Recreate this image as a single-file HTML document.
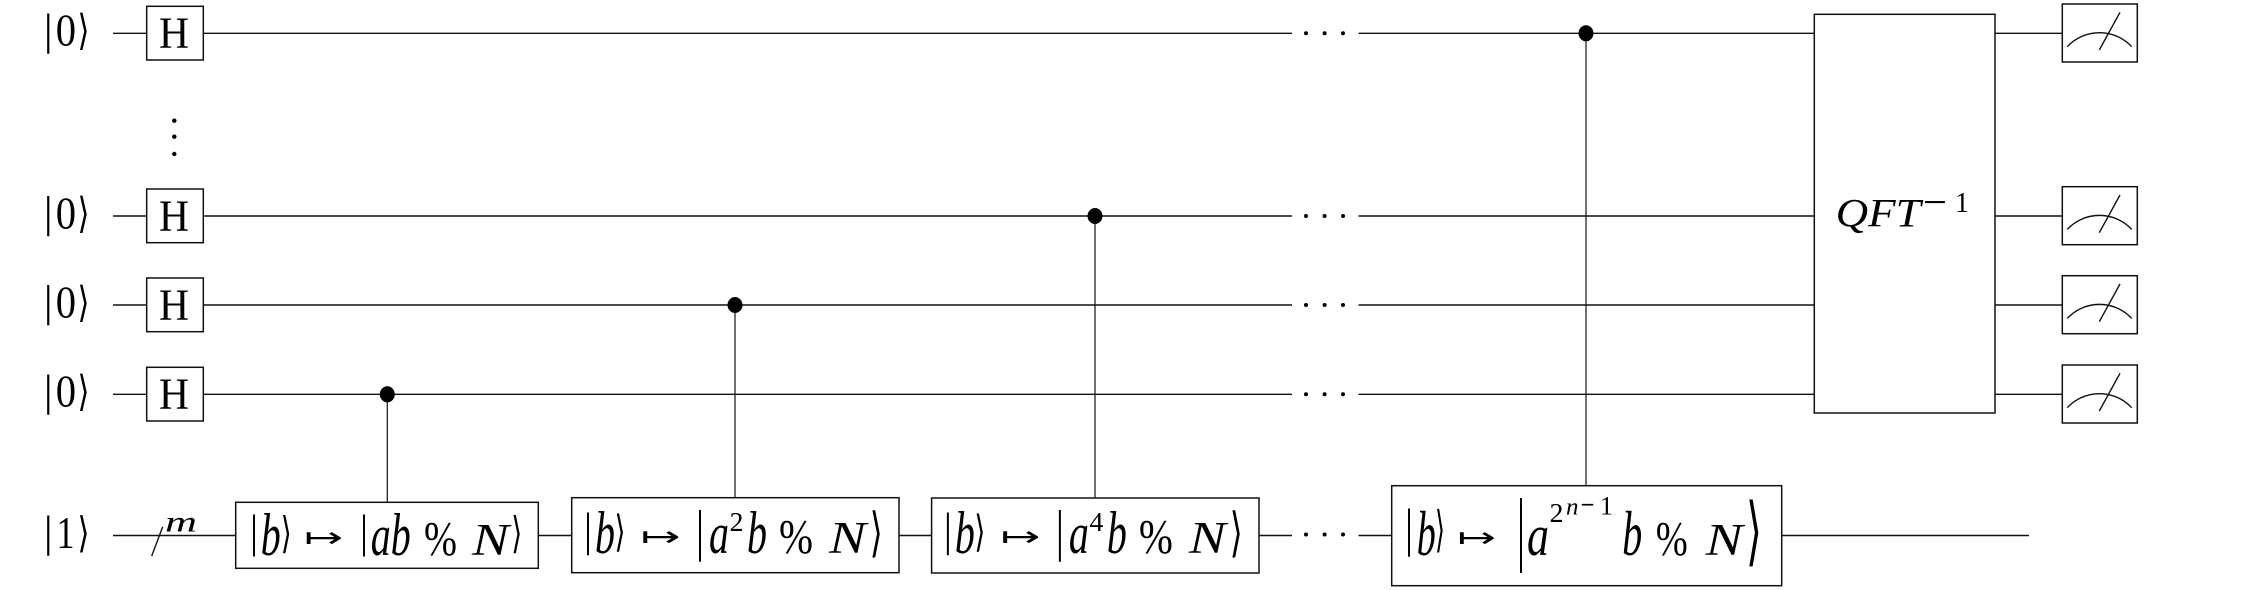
<!DOCTYPE html>
<html>
<head>
<meta charset="utf-8">
<style>
  html, body { margin: 0; padding: 0; background: #fff; }
  svg { display: block; }
  .w { stroke: #111; stroke-width: 1.4; fill: none; }
  .b { stroke: #111; stroke-width: 1.5; fill: #fff; }
  .v { stroke: #111; stroke-width: 1.2; }
  text { fill: #000; }
  .r { font-family: "Liberation Serif", "DejaVu Serif", serif; }
  .i { font-family: "Liberation Serif", "DejaVu Serif", serif; font-style: italic; }
  .s { font-family: "DejaVu Sans", "Liberation Sans", sans-serif; }
</style>
</head>
<body>
<svg width="2265" height="590" viewBox="0 0 2265 590" xmlns="http://www.w3.org/2000/svg">
  <rect x="0" y="0" width="2265" height="590" fill="#fff"/>

  <g class="w">
    <line x1="113" y1="33.3" x2="146.7" y2="33.3"/>
    <line x1="203.3" y1="33.3" x2="1292" y2="33.3"/>
    <line x1="1358.5" y1="33.3" x2="1814.3" y2="33.3"/>
    <line x1="1995" y1="33.3" x2="2062.3" y2="33.3"/>

    <line x1="113" y1="216" x2="146.7" y2="216"/>
    <line x1="203.3" y1="216" x2="1292" y2="216"/>
    <line x1="1358.5" y1="216" x2="1814.3" y2="216"/>
    <line x1="1995" y1="216" x2="2062.3" y2="216"/>

    <line x1="113" y1="305" x2="146.7" y2="305"/>
    <line x1="203.3" y1="305" x2="1292" y2="305"/>
    <line x1="1358.5" y1="305" x2="1814.3" y2="305"/>
    <line x1="1995" y1="305" x2="2062.3" y2="305"/>

    <line x1="113" y1="394.3" x2="146.7" y2="394.3"/>
    <line x1="203.3" y1="394.3" x2="1292" y2="394.3"/>
    <line x1="1358.5" y1="394.3" x2="1814.3" y2="394.3"/>
    <line x1="1995" y1="394.3" x2="2062.3" y2="394.3"/>

    <line x1="113" y1="535.5" x2="235.7" y2="535.5"/>
    <line x1="538.3" y1="535.5" x2="571.7" y2="535.5"/>
    <line x1="899" y1="535.5" x2="931.6" y2="535.5"/>
    <line x1="1259" y1="535.5" x2="1292" y2="535.5"/>
    <line x1="1358.5" y1="535.5" x2="1391.7" y2="535.5"/>
    <line x1="1781.7" y1="535.5" x2="2029" y2="535.5"/>

    <line x1="151.7" y1="556" x2="162.7" y2="526.7"/>
  </g>

  <g fill="#000">
    <circle cx="1306" cy="33.3" r="2"/><circle cx="1324.6" cy="33.3" r="2"/><circle cx="1343" cy="33.3" r="2"/>
    <circle cx="1306" cy="216" r="2"/><circle cx="1324.6" cy="216" r="2"/><circle cx="1343" cy="216" r="2"/>
    <circle cx="1306" cy="305" r="2"/><circle cx="1324.6" cy="305" r="2"/><circle cx="1343" cy="305" r="2"/>
    <circle cx="1306" cy="394.3" r="2"/><circle cx="1324.6" cy="394.3" r="2"/><circle cx="1343" cy="394.3" r="2"/>
    <circle cx="1306" cy="534.5" r="2"/><circle cx="1324.6" cy="534.5" r="2"/><circle cx="1343" cy="534.5" r="2"/>
    <circle cx="174.3" cy="120.7" r="2.2"/>
    <circle cx="174.3" cy="136.7" r="2.2"/>
    <circle cx="174.3" cy="154" r="2.2"/>
  </g>

  <g class="v">
    <line x1="387.3" y1="394.3" x2="387.3" y2="502.3"/>
    <line x1="735" y1="305" x2="735" y2="497.7"/>
    <line x1="1095" y1="216" x2="1095" y2="498"/>
    <line x1="1586" y1="33.3" x2="1586" y2="485.7"/>
  </g>
  <g fill="#000">
    <ellipse cx="387.3" cy="394.3" rx="7.5" ry="8"/>
    <ellipse cx="735" cy="305" rx="7.5" ry="8"/>
    <ellipse cx="1095" cy="216" rx="7.5" ry="8"/>
    <ellipse cx="1586" cy="33.3" rx="7.5" ry="8"/>
  </g>

  <g class="b">
    <rect x="146.7" y="6.3" width="56.6" height="53.7"/>
    <rect x="146.7" y="189" width="56.6" height="53.7"/>
    <rect x="146.7" y="278" width="56.6" height="53.7"/>
    <rect x="146.7" y="367.3" width="56.6" height="53.7"/>
  </g>
  <g class="r" font-size="44.4">
    <text x="159" y="47.7" textLength="30" lengthAdjust="spacingAndGlyphs">H</text>
    <text x="159" y="230.4" textLength="30" lengthAdjust="spacingAndGlyphs">H</text>
    <text x="159" y="319.4" textLength="30" lengthAdjust="spacingAndGlyphs">H</text>
    <text x="159" y="408.7" textLength="30" lengthAdjust="spacingAndGlyphs">H</text>
  </g>

  <g>
    <text class="s" x="48.3" y="43.9" font-size="40" text-anchor="middle" textLength="9" lengthAdjust="spacingAndGlyphs">|</text>
    <text class="r" x="55.7" y="45.7" font-size="45" textLength="20.3" lengthAdjust="spacingAndGlyphs">0</text>
    <text class="s" x="83.5" y="44.6" font-size="42" text-anchor="middle" textLength="12" lengthAdjust="spacingAndGlyphs">⟩</text>

    <text class="s" x="48.3" y="226.6" font-size="40" text-anchor="middle" textLength="9" lengthAdjust="spacingAndGlyphs">|</text>
    <text class="r" x="55.7" y="228.4" font-size="45" textLength="20.3" lengthAdjust="spacingAndGlyphs">0</text>
    <text class="s" x="83.5" y="227.3" font-size="42" text-anchor="middle" textLength="12" lengthAdjust="spacingAndGlyphs">⟩</text>

    <text class="s" x="48.3" y="315.6" font-size="40" text-anchor="middle" textLength="9" lengthAdjust="spacingAndGlyphs">|</text>
    <text class="r" x="55.7" y="317.4" font-size="45" textLength="20.3" lengthAdjust="spacingAndGlyphs">0</text>
    <text class="s" x="83.5" y="316.3" font-size="42" text-anchor="middle" textLength="12" lengthAdjust="spacingAndGlyphs">⟩</text>

    <text class="s" x="48.3" y="404.9" font-size="40" text-anchor="middle" textLength="9" lengthAdjust="spacingAndGlyphs">|</text>
    <text class="r" x="55.7" y="406.7" font-size="45" textLength="20.3" lengthAdjust="spacingAndGlyphs">0</text>
    <text class="s" x="83.5" y="405.6" font-size="42" text-anchor="middle" textLength="12" lengthAdjust="spacingAndGlyphs">⟩</text>

    <text class="s" x="48.3" y="546.1" font-size="40" text-anchor="middle" textLength="9" lengthAdjust="spacingAndGlyphs">|</text>
    <text class="r" x="56.5" y="547.9" font-size="45" textLength="18" lengthAdjust="spacingAndGlyphs">1</text>
    <text class="s" x="83.5" y="546.8" font-size="42" text-anchor="middle" textLength="12" lengthAdjust="spacingAndGlyphs">⟩</text>

    <text class="i" x="165" y="531.7" font-size="30" textLength="32" lengthAdjust="spacingAndGlyphs">m</text>
  </g>

  <!-- Gate 1 -->
  <rect class="b" x="235.7" y="502.3" width="302.6" height="66"/>
  <g>
    <text class="s" x="254" y="546.4" font-size="42" text-anchor="middle" textLength="8" lengthAdjust="spacingAndGlyphs">|</text>
    <text class="i" x="260.7" y="555" font-size="60" textLength="20" lengthAdjust="spacingAndGlyphs">b</text>
    <text class="s" x="286.2" y="547.4" font-size="43" text-anchor="middle" textLength="11" lengthAdjust="spacingAndGlyphs">⟩</text>
    <text class="s" x="304" y="547" font-size="28" textLength="39" lengthAdjust="spacingAndGlyphs">↦</text>
    <text class="s" x="364" y="546.4" font-size="42" text-anchor="middle" textLength="8" lengthAdjust="spacingAndGlyphs">|</text>
    <text class="i" x="370.7" y="555" font-size="58" textLength="20" lengthAdjust="spacingAndGlyphs">a</text>
    <text class="i" x="390.7" y="555" font-size="60" textLength="20" lengthAdjust="spacingAndGlyphs">b</text>
    <text class="r" x="424" y="555" font-size="49" textLength="33" lengthAdjust="spacingAndGlyphs">%</text>
    <text class="i" x="472" y="555" font-size="45" textLength="37" lengthAdjust="spacingAndGlyphs">N</text>
    <text class="s" x="516.7" y="547.4" font-size="43" text-anchor="middle" textLength="11" lengthAdjust="spacingAndGlyphs">⟩</text>
  </g>

  <!-- Gate 2 -->
  <rect class="b" x="571.7" y="497.7" width="327.3" height="75"/>
  <g>
    <text class="s" x="588" y="545" font-size="43" text-anchor="middle" textLength="8" lengthAdjust="spacingAndGlyphs">|</text>
    <text class="i" x="595" y="553" font-size="60" textLength="20" lengthAdjust="spacingAndGlyphs">b</text>
    <text class="s" x="620" y="546" font-size="43" text-anchor="middle" textLength="11" lengthAdjust="spacingAndGlyphs">⟩</text>
    <text class="s" x="640.5" y="546" font-size="28" textLength="40" lengthAdjust="spacingAndGlyphs">↦</text>
    <text class="s" x="700" y="549.4" font-size="52" text-anchor="middle" textLength="8" lengthAdjust="spacingAndGlyphs">|</text>
    <text class="i" x="709" y="553" font-size="58" textLength="20" lengthAdjust="spacingAndGlyphs">a</text>
    <text class="r" x="729.5" y="531" font-size="27" textLength="14" lengthAdjust="spacingAndGlyphs">2</text>
    <text class="i" x="747" y="553" font-size="60" textLength="20" lengthAdjust="spacingAndGlyphs">b</text>
    <text class="r" x="779" y="553" font-size="49" textLength="34" lengthAdjust="spacingAndGlyphs">%</text>
    <text class="i" x="829" y="553" font-size="45" textLength="37" lengthAdjust="spacingAndGlyphs">N</text>
    <text class="s" x="876.3" y="550.4" font-size="53" text-anchor="middle" textLength="13" lengthAdjust="spacingAndGlyphs">⟩</text>
  </g>

  <!-- Gate 3 -->
  <rect class="b" x="931.6" y="498" width="327.4" height="75"/>
  <g>
    <text class="s" x="947.9" y="545" font-size="43" text-anchor="middle" textLength="8" lengthAdjust="spacingAndGlyphs">|</text>
    <text class="i" x="954.9" y="553" font-size="60" textLength="20" lengthAdjust="spacingAndGlyphs">b</text>
    <text class="s" x="979.9" y="546" font-size="43" text-anchor="middle" textLength="11" lengthAdjust="spacingAndGlyphs">⟩</text>
    <text class="s" x="1000.4" y="546" font-size="28" textLength="40" lengthAdjust="spacingAndGlyphs">↦</text>
    <text class="s" x="1059.9" y="549.4" font-size="52" text-anchor="middle" textLength="8" lengthAdjust="spacingAndGlyphs">|</text>
    <text class="i" x="1068.9" y="553" font-size="58" textLength="20" lengthAdjust="spacingAndGlyphs">a</text>
    <text class="r" x="1089.4" y="531" font-size="27" textLength="14" lengthAdjust="spacingAndGlyphs">4</text>
    <text class="i" x="1106.9" y="553" font-size="60" textLength="20" lengthAdjust="spacingAndGlyphs">b</text>
    <text class="r" x="1138.9" y="553" font-size="49" textLength="34" lengthAdjust="spacingAndGlyphs">%</text>
    <text class="i" x="1188.9" y="553" font-size="45" textLength="37" lengthAdjust="spacingAndGlyphs">N</text>
    <text class="s" x="1236.2" y="550.4" font-size="53" text-anchor="middle" textLength="13" lengthAdjust="spacingAndGlyphs">⟩</text>
  </g>

  <!-- Gate 4 -->
  <rect class="b" x="1391.7" y="485.7" width="390" height="100"/>
  <g>
    <text class="s" x="1409" y="545" font-size="48" text-anchor="middle" textLength="8" lengthAdjust="spacingAndGlyphs">|</text>
    <text class="i" x="1416.7" y="555" font-size="64" textLength="19" lengthAdjust="spacingAndGlyphs">b</text>
    <text class="s" x="1440" y="546.2" font-size="49" text-anchor="middle" textLength="10" lengthAdjust="spacingAndGlyphs">⟩</text>
    <text class="s" x="1457.3" y="547" font-size="28" textLength="38.7" lengthAdjust="spacingAndGlyphs">↦</text>
    <text class="s" x="1521" y="555.3" font-size="75" text-anchor="middle" textLength="8" lengthAdjust="spacingAndGlyphs">|</text>
    <text class="i" x="1527" y="555" font-size="58" textLength="22" lengthAdjust="spacingAndGlyphs">a</text>
    <text class="r" x="1549.5" y="522" font-size="27" textLength="14" lengthAdjust="spacingAndGlyphs">2</text>
    <text class="i" x="1566" y="514.7" font-size="24" textLength="12.5" lengthAdjust="spacingAndGlyphs">n</text>
    <text class="r" x="1580.5" y="516" font-size="34" textLength="14" lengthAdjust="spacingAndGlyphs">−</text>
    <text class="r" x="1600" y="514.7" font-size="26" textLength="13" lengthAdjust="spacingAndGlyphs">1</text>
    <text class="i" x="1622.3" y="555" font-size="64" textLength="20" lengthAdjust="spacingAndGlyphs">b</text>
    <text class="r" x="1655.7" y="555" font-size="49" textLength="32" lengthAdjust="spacingAndGlyphs">%</text>
    <text class="i" x="1705.7" y="555" font-size="45" textLength="37" lengthAdjust="spacingAndGlyphs">N</text>
    <text class="s" x="1754" y="556.3" font-size="75" text-anchor="middle" textLength="16" lengthAdjust="spacingAndGlyphs">⟩</text>
  </g>

  <!-- QFT^-1 -->
  <rect class="b" x="1814.3" y="14.3" width="180.7" height="398.7"/>
  <text class="i" x="1835.7" y="226.7" font-size="40" textLength="85" lengthAdjust="spacingAndGlyphs">QFT</text>
  <text class="r" x="1923" y="216" font-size="42" textLength="24" lengthAdjust="spacingAndGlyphs">−</text>
  <text class="r" x="1955" y="212" font-size="29" textLength="14" lengthAdjust="spacingAndGlyphs">1</text>

  <!-- Meters -->
  <g>
    <rect class="b" x="2062.3" y="4" width="75" height="58"/>
    <path class="w" d="M2067.3 46.7 A44 44 0 0 1 2131.7 46.7"/>
    <line class="w" x1="2099.3" y1="50" x2="2120" y2="12.3"/>

    <rect class="b" x="2062.3" y="186.7" width="75" height="58"/>
    <path class="w" d="M2067.3 229.4 A44 44 0 0 1 2131.7 229.4"/>
    <line class="w" x1="2099.3" y1="232.7" x2="2120" y2="195"/>

    <rect class="b" x="2062.3" y="275.7" width="75" height="58"/>
    <path class="w" d="M2067.3 318.4 A44 44 0 0 1 2131.7 318.4"/>
    <line class="w" x1="2099.3" y1="321.7" x2="2120" y2="284"/>

    <rect class="b" x="2062.3" y="365" width="75" height="58"/>
    <path class="w" d="M2067.3 407.7 A44 44 0 0 1 2131.7 407.7"/>
    <line class="w" x1="2099.3" y1="411" x2="2120" y2="373.3"/>
  </g>
</svg>
</body>
</html>
